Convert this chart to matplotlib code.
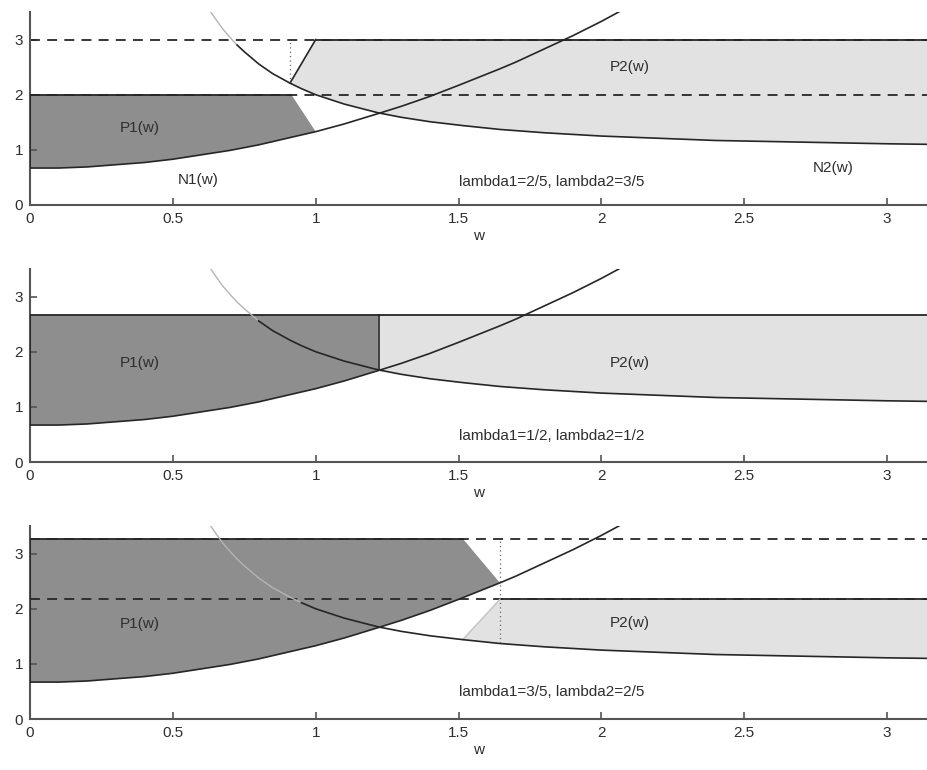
import numpy as np
import matplotlib
matplotlib.use("Agg")
import matplotlib.pyplot as plt

plt.rcParams['font.family'] = ['Liberation Sans', 'DejaVu Sans']

# curves
w_n1 = [0.0, 0.1, 0.2, 0.3, 0.4, 0.5, 0.6, 0.7, 0.8, 0.9, 1.0, 1.1, 1.22,
        1.3, 1.4, 1.5, 1.645, 1.7, 1.8, 1.9, 2.0, 2.1]
n1 = [0.67, 0.67, 0.69, 0.73, 0.77, 0.83, 0.91, 0.99, 1.09, 1.21, 1.33, 1.47, 1.66,
      1.79, 1.97, 2.17, 2.47, 2.59, 2.83, 3.07, 3.33, 3.61]

w_n2 = [0.6, 0.625, 0.65, 0.675, 0.7, 0.725, 0.75, 0.775, 0.8, 0.825, 0.85, 0.875,
        0.91, 0.95, 1.0, 1.1, 1.22, 1.3, 1.4, 1.515, 1.645, 1.8, 2.0, 2.2, 2.4,
        2.6, 2.8, 3.0, 3.14]
n2 = [3.78, 3.56, 3.37, 3.19, 3.04, 2.90, 2.78, 2.67, 2.56, 2.47, 2.38, 2.31,
      2.21, 2.11, 2.00, 1.83, 1.67, 1.59, 1.51, 1.44, 1.37, 1.31, 1.25, 1.21, 1.17,
      1.15, 1.13, 1.11, 1.10]

# per panel: lambda label, P1 top level, P2 top level
lambda_labels = ["lambda1=2/5, lambda2=3/5",
                 "lambda1=1/2, lambda2=1/2",
                 "lambda1=3/5, lambda2=2/5"]
p1_top = [2.0, 2.667, 3.27]
p2_top = [3.0, 2.667, 2.17]
# P1 right edge: w at top corner, w where it meets N1
p1_cut_top = [0.915, 1.22, 1.515]
p1_cut_bot = [1.0, 1.22, 1.645]
# P2 left edge: w where it leaves N2, w at top corner
p2_cut_bot = [0.91, 1.22, 1.515]
p2_cut_top = [1.0, 1.22, 1.645]
# dotted marker line: w, from N2 up to level
dotted_w = [0.91, None, 1.645]
dotted_top = [3.0, None, 3.27]

x_ticks = [0, 0.5, 1, 1.5, 2, 2.5, 3]
x_tick_labels = ["0", "0.5", "1", "1.5", "2", "2.5", "3"]
y_ticks = [0, 1, 2, 3]

w_n1 = np.array(w_n1); n1 = np.array(n1)
w_n2 = np.array(w_n2); n2 = np.array(n2)

dark = '#8e8e8e'
light = '#e2e2e2'
ink = '#262626'
xmax = 3.14

fig = plt.figure(figsize=(9.27, 7.7), dpi=100)
bottoms = [0.7338, 0.4, 0.0662]

for i in range(3):
    ax = fig.add_axes([0.0324, bottoms[i], 0.9676, 0.2506])

    # P1 polygon
    m = w_n1 <= p1_cut_bot[i] + 1e-9
    px = [0.0, p1_cut_top[i]] + list(w_n1[m][::-1])
    py = [p1_top[i], p1_top[i]] + list(n1[m][::-1])
    ax.fill(px, py, color=dark, lw=0, zorder=1)

    # P2 polygon
    m2 = w_n2 >= p2_cut_bot[i] - 1e-9
    qx = [p2_cut_top[i], xmax] + list(w_n2[m2][::-1])
    qy = [p2_top[i], p2_top[i]] + list(n2[m2][::-1])
    ax.fill(qx, qy, color=light, lw=0, zorder=1)

    # dashed reference levels
    if p1_top[i] != p2_top[i]:
        for lev in (p1_top[i], p2_top[i]):
            ax.plot([0, xmax], [lev, lev], color=ink, lw=1.3,
                    linestyle=(0, (5.5, 4)), zorder=2)

    # solid region borders
    ax.plot([0, p1_cut_top[i]], [p1_top[i], p1_top[i]], color=ink, lw=1.3, zorder=3)
    ax.plot([p2_cut_top[i], xmax], [p2_top[i], p2_top[i]], color=ink, lw=1.3, zorder=3)
    ax.plot([0, 0], [n1[0], p1_top[i]], color=ink, lw=1.3, zorder=3)
    k = list(w_n2).index(p2_cut_bot[i])
    edge_col = '#c8c8c8' if i == 2 else ink
    ax.plot([p2_cut_bot[i], p2_cut_top[i]], [n2[k], p2_top[i]],
            color=edge_col, lw=1.2, zorder=3)

    if dotted_w[i] is not None:
        j = list(w_n2).index(dotted_w[i])
        ax.plot([dotted_w[i], dotted_w[i]], [n2[j], dotted_top[i]],
                color='#666666', lw=0.9, linestyle=(0, (1, 2.5)), zorder=3)

    # curves
    ax.plot(w_n1, n1, color=ink, lw=1.2, zorder=4)
    above = n2 >= p2_top[i]
    idx = np.where(above)[0]
    last = idx[-1] + 1 if len(idx) else 0
    ax.plot(w_n2[:last + 1], n2[:last + 1], color='#b4b4b4', lw=1.0, zorder=4)
    ax.plot(w_n2[last:], n2[last:], color=ink, lw=1.2, zorder=4)

    # labels
    ax.text(0.385, [1.4, 1.8, 1.72][i], "P1(w)", ha='center', va='center',
            fontsize=11, color='#2e2e2e', zorder=5)
    ax.text(2.1, [2.5, 1.8, 1.74][i], "P2(w)", ha='center', va='center',
            fontsize=11, color='#2e2e2e', zorder=5)
    ax.text(1.5, [0.42, 0.47, 0.49][i], lambda_labels[i], ha='left', va='center',
            fontsize=11, color='#2e2e2e', zorder=5)
    if i == 0:
        ax.text(0.59, 0.45, "N1(w)", ha='center', va='center', fontsize=11, color='#2e2e2e')
        ax.text(2.81, 0.67, "N2(w)", ha='center', va='center', fontsize=11, color='#2e2e2e')

    ax.set_xlim(0, xmax)
    ax.set_ylim(0, 3.5)
    ax.set_xticks(x_ticks)
    ax.set_xticklabels(x_tick_labels)
    ax.set_yticks(y_ticks)
    ax.set_xlabel("w", fontsize=11, labelpad=2, color='#2e2e2e')
    for s in ('top', 'right'):
        ax.spines[s].set_visible(False)
    for s in ('left', 'bottom'):
        ax.spines[s].set_color('#555555')
        ax.spines[s].set_linewidth(1.5)
    ax.tick_params(direction='in', length=5, width=1.2, color='#555555',
                   labelsize=11, labelcolor='#2e2e2e', pad=5)
    ax.patch.set_alpha(0)

fig.savefig("out.png", dpi=100)
